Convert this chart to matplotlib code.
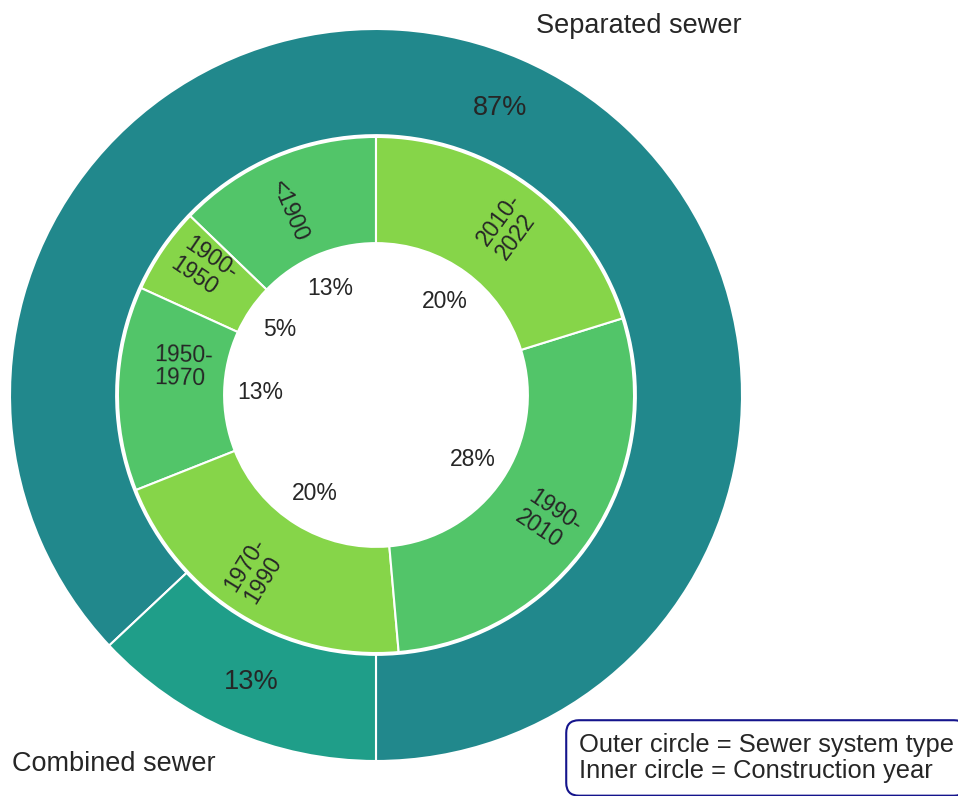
import matplotlib.pyplot as plt

plt.rcParams['font.family'] = ['Liberation Sans', 'DejaVu Sans']
plt.rcParams['text.color'] = '#262626'

sewer_types = ['Separated sewer', 'Combined sewer']
sewer_share = [87, 13]
sewer_colors = ['#21888c', '#1f9e89']

years = ['<1900', '1900-\n1950', '1950-\n1970', '1970-\n1990', '1990-\n2010', '2010-\n2022']
year_share = [12.8, 5.4, 12.8, 20.4, 28.4, 20.2]
year_colors = ['#52c569', '#86d549', '#52c569', '#86d549', '#52c569', '#86d549']

fig = plt.figure(figsize=(9.58, 7.96), dpi=100)
ax = fig.add_axes([0, 0, 1, 1])

# outer ring: sewer system type
ax.pie(sewer_share, labels=sewer_types, colors=sewer_colors, startangle=-90,
       radius=1.0, labeldistance=1.1, pctdistance=0.855, autopct='%.0f%%',
       wedgeprops=dict(width=0.29, edgecolor='white', linewidth=1.5),
       textprops=dict(fontsize=19.5, color='#262626'))

# inner ring: construction year
r_in = 0.705
ax.pie(year_share, labels=years, colors=year_colors, startangle=90,
       radius=r_in, labeldistance=0.63, pctdistance=0.45, autopct='%.0f%%',
       rotatelabels=True,
       wedgeprops=dict(width=0.29, edgecolor='white', linewidth=1.5),
       textprops=dict(fontsize=16.5, color='#262626', linespacing=1.05,
                      multialignment='left'))

# pie centred at (376, 395) px with radius 366 px
cx, cy, scale = 376.0, 395.0, 366.0
ax.set_xlim(-cx / scale, (958 - cx) / scale)
ax.set_ylim(-(796 - cy) / scale, cy / scale)
ax.set_aspect('auto')
ax.axis('off')

fig.text(579 / 958, 1 - 733 / 796,
         'Outer circle = Sewer system type\nInner circle = Construction year',
         fontsize=18.4, ha='left', va='top', linespacing=1.1,
         bbox=dict(boxstyle='round,pad=0.5', facecolor='white',
                   edgecolor='#14148c', linewidth=1.5))

fig.savefig('out.png', dpi=100)
